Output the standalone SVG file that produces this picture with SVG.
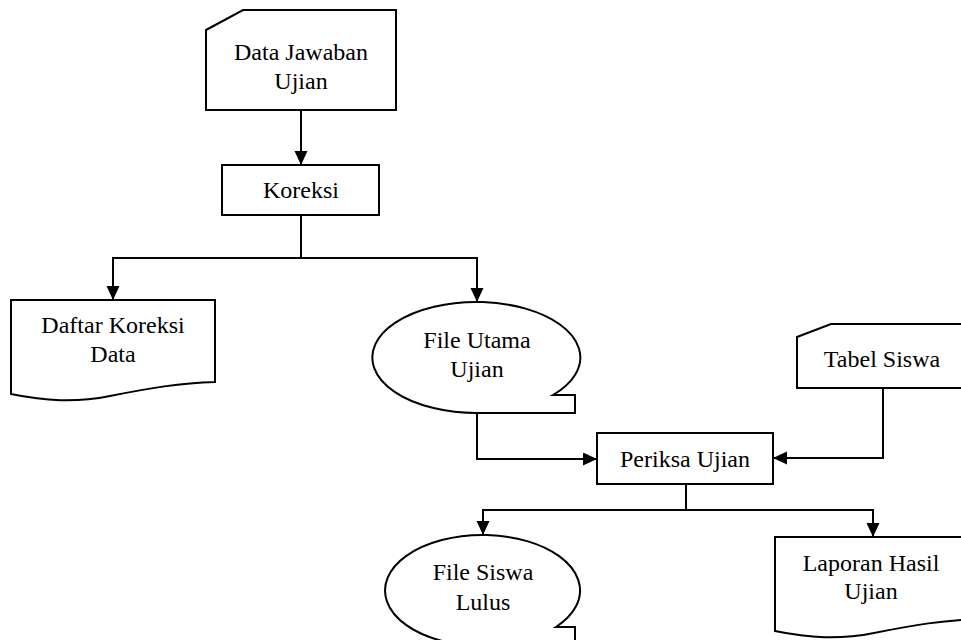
<svg xmlns="http://www.w3.org/2000/svg" width="961" height="640" viewBox="0 0 961 640">
<defs>
<marker id="arr" markerUnits="userSpaceOnUse" markerWidth="14" markerHeight="14" refX="14" refY="6.5" orient="auto">
<path d="M0,0 L14,6.5 L0,13 Z" fill="#000"/>
</marker>
<style>
.s{fill:#fff;stroke:#000;stroke-width:2}
.c{fill:none;stroke:#000;stroke-width:2}
.t{font-family:'Liberation Serif','Times New Roman',serif;font-size:24px;fill:#000;text-anchor:middle}
</style>
</defs>
<rect width="961" height="640" fill="#fff"/>
<g id="connectors">
<path class="c" d="M301,110 V165" marker-end="url(#arr)"/>
<path class="c" d="M301,215 V258 H113 V300" marker-end="url(#arr)"/>
<path class="c" d="M301,258 H477 V302" marker-end="url(#arr)"/>
<path class="c" d="M477,413 V459 H597" marker-end="url(#arr)"/>
<path class="c" d="M883,388 V458 H773" marker-end="url(#arr)"/>
<path class="c" d="M686,484 V510 H483 V535" marker-end="url(#arr)"/>
<path class="c" d="M686,510 H873 V537" marker-end="url(#arr)"/>
</g>
<g id="data-jawaban">
<path class="s" d="M206,30 L243,10 H396 V110 H206 Z"/>
<text class="t" x="301" y="60">Data Jawaban</text>
<text class="t" x="301" y="89">Ujian</text>
</g>
<g id="koreksi">
<rect class="s" x="222" y="165" width="157" height="50"/>
<text class="t" x="301" y="198">Koreksi</text>
</g>
<g id="daftar-koreksi">
<path class="s" d="M11,300 H215 V382 C180,383 150,388 110,396 C75,403 45,401 11,394 Z"/>
<text class="t" x="113" y="333">Daftar Koreksi</text>
<text class="t" x="113" y="362">Data</text>
</g>
<g id="file-utama">
<path class="s" d="M553,395 A104,55.5 0 1 0 477,413 H575 V395 Z"/>
<text class="t" x="477" y="348">File Utama</text>
<text class="t" x="477" y="377">Ujian</text>
</g>
<g id="tabel-siswa">
<path class="s" d="M797,337 L831,324 H975 V388 H797 Z"/>
<text class="t" x="882" y="367">Tabel Siswa</text>
</g>
<g id="periksa-ujian">
<rect class="s" x="597" y="433" width="176" height="51"/>
<text class="t" x="685" y="467">Periksa Ujian</text>
</g>
<g id="file-siswa">
<path class="s" d="M556,627 A97.5,55.5 0 1 0 483.5,646 H575 V627 Z"/>
<text class="t" x="483" y="580">File Siswa</text>
<text class="t" x="483" y="610">Lulus</text>
</g>
<g id="laporan-hasil">
<path class="s" d="M775,537 H979 V619 C944,620 914,625 874,633 C839,640 809,638 775,631 Z"/>
<text class="t" x="871" y="571">Laporan Hasil</text>
<text class="t" x="871" y="599">Ujian</text>
</g>
</svg>
